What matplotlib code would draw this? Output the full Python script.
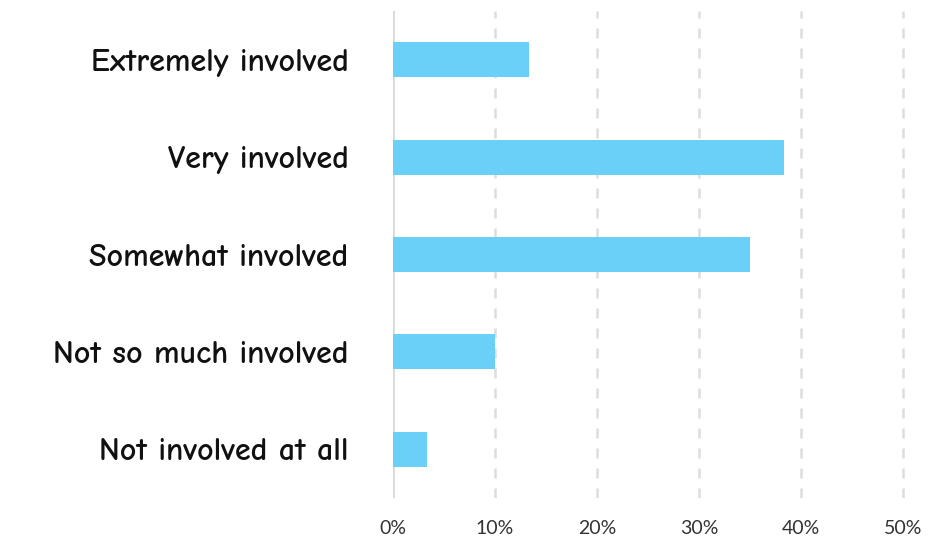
import matplotlib
matplotlib.use("Agg")
import matplotlib.pyplot as plt
from matplotlib.ticker import FuncFormatter

# survey answers, top to bottom
categories = ["Extremely involved", "Very involved", "Somewhat involved",
              "Not so much involved", "Not involved at all"]
percent = [13.3, 38.3, 35.0, 10.0, 3.3]
x_ticks = [0, 10, 20, 30, 40, 50]

fig = plt.figure(figsize=(9.29, 5.39), dpi=100)
ax = fig.add_axes([393 / 929, 41 / 539, 527 / 929, 487 / 539])

ax.barh(range(len(categories)), percent, height=0.36, color="#6ad0f7")

ax.set_ylim(len(categories) - 0.5, -0.5)
ax.set_xlim(0, 51.67)
ax.set_yticks(range(len(categories)))
ax.set_yticklabels(categories, fontsize=23, fontweight="bold",
                   family=["Comic Neue", "Lato", "DejaVu Sans"], color="#111111")
ax.set_xticks(x_ticks)
ax.xaxis.set_major_formatter(FuncFormatter(lambda v, p: f"{v:.0f}%"))
ax.tick_params(axis="x", labelsize=14, labelcolor="#333333", length=0, pad=16)
ax.tick_params(axis="y", length=0, pad=32)
for lbl in ax.get_xticklabels():
    lbl.set_family(["Lato", "DejaVu Sans"])

# gridlines: solid at zero, dashed elsewhere
for t in x_ticks:
    if t == 0:
        ax.axvline(t, color="#d9d9d9", lw=2, zorder=0)
    else:
        ax.axvline(t, color="#dddddd", lw=1.8, ls=(0, (4, 4)), zorder=0)

for s in ax.spines.values():
    s.set_visible(False)

fig.savefig("out.png", dpi=100)
